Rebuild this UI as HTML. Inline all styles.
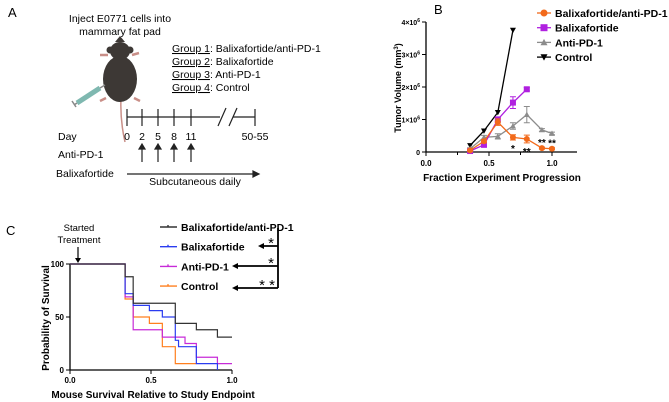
<!DOCTYPE html>
<html><head><meta charset="utf-8"><style>
body{margin:0;background:#fff;}
svg{display:block;font-family:"Liberation Sans",Arial,sans-serif;}
</style></head><body>
<svg id="fig" width="669" height="402" viewBox="0 0 669 402">
<g>
<text x="8" y="17" font-size="13">A</text>
<text x="120" y="22" font-size="10.5" text-anchor="middle">Inject E0771 cells into</text>
<text x="120" y="35" font-size="10.5" text-anchor="middle">mammary fat pad</text>
<g>
<path d="M121 98 Q120 120 125 142" stroke="#c98f88" stroke-width="1.5" fill="none"/>
<path d="M108 55 L100 55 M132 55 L139 53 M106 98 L100 101 M134 98 L140 101" stroke="#c98f88" stroke-width="2.5"/>
<ellipse cx="120" cy="79" rx="17" ry="23" fill="#3d3835"/>
<ellipse cx="120" cy="51" rx="10" ry="9" fill="#3d3835"/>
<path d="M115 42 L120 36 L125 42Z" fill="#3d3835"/>
<circle cx="110" cy="50" r="3.5" fill="#3d3835"/><circle cx="130" cy="50" r="3.5" fill="#3d3835"/>
<path d="M100 88 L77 103" stroke="#7fb8b0" stroke-width="5"/>
<path d="M100 88 L105 85 M77 103 L74 105 M72 101 L76 107" stroke="#888" stroke-width="1.5"/>
</g>
<g font-size="10.5">
<text x="172" y="52"><tspan text-decoration="underline">Group 1</tspan>: Balixafortide/anti-PD-1</text>
<text x="172" y="65"><tspan text-decoration="underline">Group 2</tspan>: Balixafortide</text>
<text x="172" y="78"><tspan text-decoration="underline">Group 3</tspan>: Anti-PD-1</text>
<text x="172" y="91"><tspan text-decoration="underline">Group 4</tspan>: Control</text>
</g>
<g stroke="#222" stroke-width="1.2" fill="none">
<path d="M127 117 H220 M233 117 H255"/>
<path d="M127 109 V126 M142 109 V126 M158 109 V126 M174 109 V126 M191 109 V126 M255 109 V126"/>
<path d="M218 126 L226 108 M229 126 L237 108"/>
</g>
<g font-size="10.5">
<text x="58" y="140">Day</text>
<text x="127" y="140" text-anchor="middle">0</text><text x="142" y="140" text-anchor="middle">2</text>
<text x="158" y="140" text-anchor="middle">5</text><text x="174" y="140" text-anchor="middle">8</text>
<text x="191" y="140" text-anchor="middle">11</text><text x="255" y="140" text-anchor="middle">50-55</text>
<text x="58" y="158">Anti-PD-1</text>
<text x="56" y="177">Balixafortide</text>
<text x="195" y="185" text-anchor="middle">Subcutaneous daily</text>
</g>
<g stroke="#222" stroke-width="1.2" fill="#222">
<path d="M142 162 V148 M158 162 V148 M174 162 V148 M191 162 V148" fill="none"/>
<path d="M139 149 L142 144 L145 149Z M155 149 L158 144 L161 149Z M171 149 L174 144 L177 149Z M188 149 L191 144 L194 149Z"/>
<path d="M127 174 H254" fill="none"/><path d="M253 171 L259 174 L253 177Z"/>
</g>
</g>
<g id="panelB">
<text x="434" y="14" font-size="13">B</text>
</g>
<g id="panelC">
<text x="6" y="235" font-size="13">C</text>
<text x="79" y="231" font-size="9.5" text-anchor="middle">Started</text>
<text x="79" y="243" font-size="9.5" text-anchor="middle">Treatment</text>
<path d="M78 247 V260" stroke="#000" stroke-width="1.2"/><path d="M75 258 L78 263 L81 258Z" fill="#000"/>
</g>
</svg>
<script>
const bX=[0.35,0.46,0.57,0.69,0.80,0.92,1.0];
const bCombo=[0.05,0.33,0.92,0.45,0.40,0.12,0.10];
const bCombErr=[0.03,0.05,0.1,0.08,0.12,0.03,0.03];
const bBali=[0.03,0.22,1.0,1.52,1.93];
const bBaliErr=[0.02,0.04,0.08,0.18,0.05];
const bAnti=[0.10,0.45,0.48,0.80,1.15,0.68,0.57];
const bAntiErr=[0.03,0.06,0.08,0.1,0.25,0.04,0.04];
const bCtrl=[0.20,0.65,1.22,3.75];
const bYTicks=[0,1,2,3,4];
const bXTicks=[0.0,0.5,1.0];
const bLegend=["Balixafortide/anti-PD-1","Balixafortide","Anti-PD-1","Control"];
const bStars=[[0.69,"*",-0.27],[0.80,"**",-0.31],[0.92,"**",0.25],[1.0,"**",0.25]];
const cBlackX=[0,0.34,0.39,0.65,0.78,0.91,1.0];
const cBlackY=[100,88,63,44,38,31,31];
const cBlueX=[0,0.34,0.39,0.49,0.57,0.65,0.67,0.78,0.91];
const cBlueY=[100,72,61,56,50,28,22,6,0];
const cMagX=[0,0.34,0.39,0.57,0.71,0.78,0.91,1.0];
const cMagY=[100,69,38,31,25,12,6,6];
const cOrX=[0,0.34,0.39,0.49,0.57,0.65,0.78];
const cOrY=[100,67,50,44,22,6,6];
const cYTicks=[0,50,100];
const cXTicks=[0.0,0.5,1.0];
const cLegend=["Balixafortide/anti-PD-1","Balixafortide","Anti-PD-1","Control"];

const NS="http://www.w3.org/2000/svg";
function mk(parent,tag,attrs){const e=document.createElementNS(NS,tag);for(const k in attrs)e.setAttribute(k,attrs[k]);parent.appendChild(e);return e;}
const bx=v=>426+v*126, by=v=>152-v*32.5;
const B=document.getElementById('panelB');
const ax=mk(B,'path',{d:`M426 ${by(4)} V152 H577`,stroke:'#000','stroke-width':1.3,fill:'none'});


bYTicks.forEach(t=>{mk(B,'path',{d:`M422 ${by(t)} H426`,stroke:'#000'});
 const tx=mk(B,'text',{x:420,y:by(t)+3,'font-size':7,'text-anchor':'end','font-weight':'bold'});
 
 
 if(t===0)tx.textContent='0';else{tx.textContent=t+'×10';const s=mk(tx,'tspan',{dy:-3,'font-size':5});s.textContent='6';}});
bXTicks.forEach(t=>{mk(B,'path',{d:`M${bx(t)} 152 V156`,stroke:'#000'});
 const tx=mk(B,'text',{x:bx(t),y:166,'font-size':8,'text-anchor':'middle','font-weight':'bold'});tx.textContent=t.toFixed(1);
 
 });
[0.25,0.75].forEach(t=>mk(B,'path',{d:`M${bx(t)} 152 V155`,stroke:'#000'}));
const xl=mk(B,'text',{x:502,y:181,'font-size':10,'text-anchor':'middle','font-weight':'bold'});xl.textContent='Fraction Experiment Progression';


const yl=mk(B,'text',{x:0,y:0,'font-size':9,'text-anchor':'middle','font-weight':'bold',transform:'translate(401 88) rotate(-90)'});yl.textContent='Tumor Volume (mm';
const sp=mk(yl,'tspan',{dy:-3,'font-size':6});sp.textContent='3';const sp2=mk(yl,'tspan',{dy:3});sp2.textContent=')';


function marker(g,type,x,y,c,s){
 if(type==='circle')return mk(g,'circle',{cx:x,cy:y,r:s,fill:c});
 if(type==='square')return mk(g,'rect',{x:x-s,y:y-s,width:2*s,height:2*s,fill:c});
 if(type==='tri')return mk(g,'path',{d:`M${x-s} ${y+s*0.8} L${x} ${y-s} L${x+s} ${y+s*0.8}Z`,fill:c});
 return mk(g,'path',{d:`M${x-s} ${y-s*0.8} L${x} ${y+s} L${x+s} ${y-s*0.8}Z`,fill:c});
}
const bSeries=[[bCtrl,null,'#000','down','control'],[bAnti,bAntiErr,'#8c8c8c','tri','anti-pd-1'],[bBali,bBaliErr,'#b020e0','square','balixafortide'],[bCombo,bCombErr,'#f26a1b','circle','combo']];
bSeries.forEach(([vals,err,c,m,nm])=>{
 const g=mk(B,'g',{});
 
 
 mk(g,'path',{d:vals.map((v,i)=>(i?'L':'M')+bx(bX[i])+' '+by(v)).join(' '),stroke:c,'stroke-width':1.3,fill:'none'});
 vals.forEach((v,i)=>{
  if(err){const x=bx(bX[i]);mk(g,'path',{d:`M${x} ${by(v-err[i])} V${by(v+err[i])} M${x-3} ${by(v+err[i])} H${x+3} M${x-3} ${by(v-err[i])} H${x+3}`,stroke:c,'stroke-width':1});}
  const p=marker(g,m,bx(bX[i]),by(v),c,3);
  
  
 });
});
bStars.forEach(([x,s,dy])=>{const t=mk(B,'text',{x:bx(x),y:by(bCombo[bX.indexOf(x)]+dy)+6,'font-size':10,'text-anchor':'middle','font-weight':'bold'});t.textContent=s;
 
 });
const legC=['#f26a1b','#b020e0','#8c8c8c','#000'],legM=['circle','square','tri','down'];
bLegend.forEach((l,i)=>{const y=13+i*14.7;const g=mk(B,'g',{});
 
 
 mk(g,'path',{d:`M537 ${y} H551`,stroke:legC[i],'stroke-width':1.3});marker(g,legM[i],544,y,legC[i],3.5);
 const t=mk(g,'text',{x:555,y:y+4,'font-size':10.5,'font-weight':'bold'});t.textContent=l;});

const cx=v=>70+v*162, cy=v=>370-v*1.06;
const C=document.getElementById('panelC');
const cax=mk(C,'path',{d:`M70 ${cy(100)} V370 H232`,stroke:'#000','stroke-width':1.3,fill:'none'});


cYTicks.forEach(t=>{mk(C,'path',{d:`M66 ${cy(t)} H70`,stroke:'#000'});const tx=mk(C,'text',{x:64,y:cy(t)+3,'font-size':8,'text-anchor':'end','font-weight':'bold'});tx.textContent=t;
 
 });
cXTicks.forEach(t=>{mk(C,'path',{d:`M${cx(t)} 370 V374`,stroke:'#000'});const tx=mk(C,'text',{x:cx(t),y:383,'font-size':8,'text-anchor':'middle','font-weight':'bold'});tx.textContent=t.toFixed(1);
 
 });
const cxl=mk(C,'text',{x:153,y:398,'font-size':10,'text-anchor':'middle','font-weight':'bold'});cxl.textContent='Mouse Survival Relative to Study Endpoint';


const cyl=mk(C,'text',{x:0,y:0,'font-size':10,'text-anchor':'middle','font-weight':'bold',transform:'translate(49 318) rotate(-90)'});cyl.textContent='Probability of Survival';


const cSeries=[[cOrX,cOrY,'#ff7f1e','control'],[cMagX,cMagY,'#c72bd8','anti-pd-1'],[cBlueX,cBlueY,'#2b3cf0','balixafortide'],[cBlackX,cBlackY,'#333','combo']];
cSeries.forEach(([xs,ys,c,nm])=>{let d=`M${cx(xs[0])} ${cy(ys[0])}`;
 for(let i=1;i<xs.length;i++){d+=` H${cx(xs[i])} V${cy(ys[i])}`;}
 const p=mk(C,'path',{d,stroke:c,'stroke-width':1.2,fill:'none'});
 
 });
const cLegC=['#333','#2b3cf0','#c72bd8','#ff7f1e'];
cLegend.forEach((l,i)=>{const y=227+i*19.7;const g=mk(C,'g',{});
 
 
 mk(g,'path',{d:`M160 ${y} H177 M168 ${y-2} V${y}`,stroke:cLegC[i],'stroke-width':1.4});
 const t=mk(g,'text',{x:181,y:y+4,'font-size':10.5,'font-weight':'bold'});t.textContent=l;});
const br=mk(C,'g',{});


mk(br,'path',{d:'M278 228 V288 M278 246 H262 M278 266 H236 M278 288 H236',stroke:'#000','stroke-width':1.8,fill:'none'});
mk(br,'path',{d:'M264 243 L258 246 L264 249Z M238 263 L232 266 L238 269Z M238 285 L232 288 L238 291Z',fill:'#000'});
[[271,248,'*'],[271,268,'*'],[267,290,'* *']].forEach(([x,y,s])=>{const t=mk(br,'text',{x,y,'font-size':15,'text-anchor':'middle'});t.textContent=s;});
</script>
</body></html>
